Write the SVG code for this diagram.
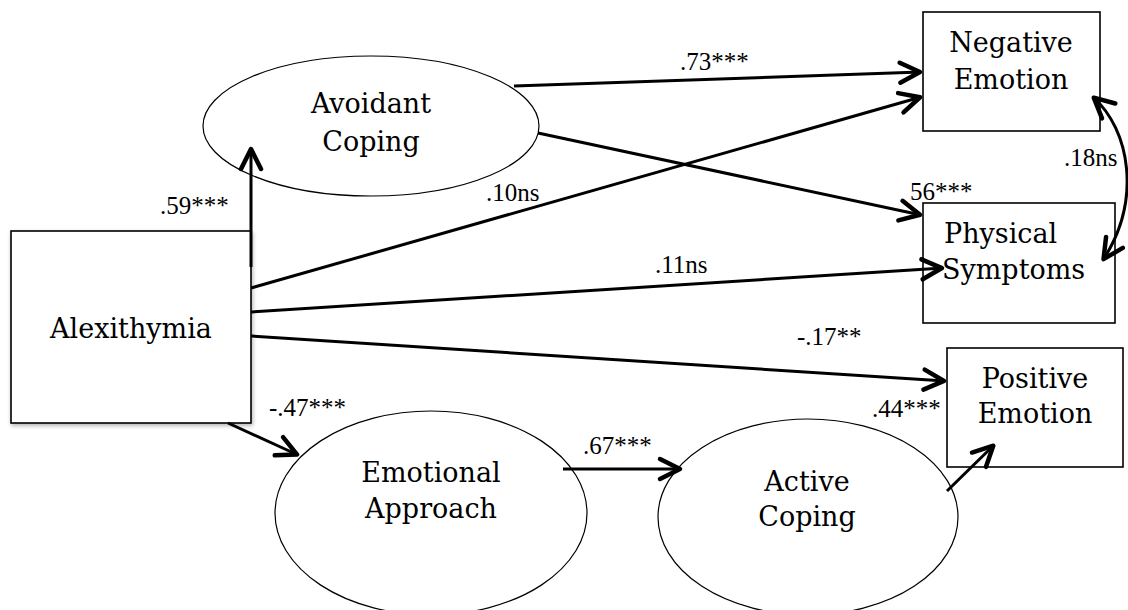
<svg xmlns="http://www.w3.org/2000/svg" width="1128" height="610" viewBox="0 0 1128 610">
<style>
.box{fill:#fff;stroke:#000;stroke-width:1.6}
.ell{fill:#fff;stroke:#000;stroke-width:1.2}
.nt{font-family:"DejaVu Serif","Liberation Serif",serif;font-size:27px;fill:#000;text-anchor:middle}
.nts{font-family:"DejaVu Serif","Liberation Serif",serif;font-size:27px;fill:#000;text-anchor:start}
.lbl{font-family:"Liberation Serif","Times New Roman",serif;font-size:25px;fill:#000}
.conn{fill:none;stroke:#000;stroke-width:3;marker-end:url(#ah)}
</style>
<defs>
<marker id="ah" viewBox="-26 -14 30 28" refX="0" refY="0" markerWidth="30" markerHeight="28" markerUnits="userSpaceOnUse" orient="auto-start-reverse" overflow="visible">
<path d="M-21,-10 L-1,0 L-21,10" fill="none" stroke="#000" stroke-width="4.5" stroke-linejoin="round" stroke-linecap="round"/>
</marker>
<filter id="sh" x="-10%" y="-10%" width="125%" height="125%">
<feDropShadow dx="1" dy="2" stdDeviation="2" flood-color="#000" flood-opacity="0.3"/>
</filter>
</defs>
<rect width="1128" height="610" fill="#fff"/>
<g id="alexithymia">
<rect class="box" x="11" y="231" width="240" height="192" stroke-width="2.2" filter="url(#sh)"/>
<text class="nt" x="131" y="338">Alexithymia</text>
</g>
<g id="avoidant-coping">
<ellipse class="ell" cx="371" cy="126" rx="168" ry="70"/>
<text class="nt" x="371" y="113">Avoidant</text>
<text class="nt" x="371" y="151">Coping</text>
</g>
<g id="emotional-approach">
<ellipse class="ell" cx="431" cy="513" rx="156" ry="102"/>
<text class="nt" x="431" y="482">Emotional</text>
<text class="nt" x="431" y="518">Approach</text>
</g>
<g id="active-coping">
<ellipse class="ell" cx="808" cy="517" rx="150" ry="98"/>
<text class="nt" x="807" y="491">Active</text>
<text class="nt" x="807" y="526">Coping</text>
</g>
<g id="negative-emotion">
<rect class="box" x="923" y="12" width="177" height="119"/>
<text class="nt" x="1011" y="52">Negative</text>
<text class="nt" x="1011" y="89">Emotion</text>
</g>
<g id="physical-symptoms">
<rect class="box" x="923" y="203" width="192" height="120"/>
<text class="nts" x="944" y="243">Physical</text>
<text class="nts" x="942" y="279">Symptoms</text>
</g>
<g id="positive-emotion">
<rect class="box" x="947" y="348" width="176" height="119"/>
<text class="nt" x="1035" y="388">Positive</text>
<text class="nt" x="1035" y="423">Emotion</text>
</g>
<g id="connectors">
<path class="conn" d="M251,267 L251,148"/>
<path class="conn" d="M514,86 L921,72"/>
<path class="conn" d="M538,133 L921,215"/>
<path class="conn" d="M251,288 L921,97"/>
<path class="conn" d="M251,312 L943,268"/>
<path class="conn" d="M251,336 L945,381"/>
<path class="conn" d="M228,423 L298,455"/>
<path class="conn" d="M563,469 L681,469"/>
<path class="conn" d="M947,491 L994,445" stroke-width="2.2"/>
<path class="conn" d="M1093,97 C1130,130 1142,200 1103,260" stroke-width="2.6" marker-start="url(#ah)"/>
</g>
<g id="labels">
<text class="lbl" x="680" y="70">.73***</text>
<text class="lbl" x="160" y="214">.59***</text>
<text class="lbl" x="486" y="201">.10ns</text>
<text class="lbl" x="910" y="200">56***</text>
<text class="lbl" x="1064" y="166">.18ns</text>
<text class="lbl" x="655" y="273">.11ns</text>
<text class="lbl" x="797" y="345">-.17**</text>
<text class="lbl" x="269" y="416">-.47***</text>
<text class="lbl" x="583" y="454">.67***</text>
<text class="lbl" x="872" y="417">.44***</text>
</g>
</svg>
